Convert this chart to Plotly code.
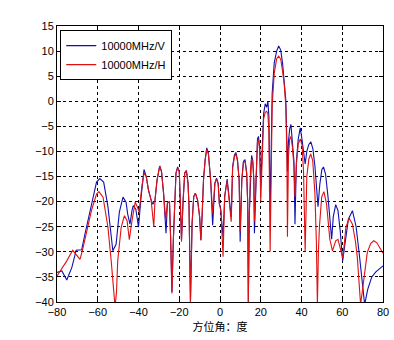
import plotly.graph_objects as go

# Azimuth pattern at 10000 MHz, vertical (V) and horizontal (H) polarisation.
# Angles in degrees, levels in dB.
angle_v = [
    -80, -77.6, -75.2, -72.7, -70.6, -67.9, -66.3, -63.1, -60.6, -59.0, -57.1, -55, -53.5, -52.6,
    -51, -49.4, -47.6, -46.1, -45.3, -44.2, -43.2, -42.6, -41.3, -40, -38.9, -37.3, -36.2, -35.1,
    -33.8, -32.9, -31.9, -30.9, -29.6, -28.7, -27.7, -26.5, -25.8, -24.8, -24.2, -23.6, -22.9,
    -22.2, -21.6, -20.8, -20, -19.4, -18.9, -18.1, -17.3, -16.5, -15.7, -15.2, -14.5, -13.7,
    -12.9, -12.1, -11, -10, -9.4, -8.8, -8.1, -7.3, -6.5, -5.7, -4.6, -3.6, -2.5, -1.7, -0.9,
    -0.3, 0.2, 1.5, 2.3, 3.0, 3.5, 3.9, 4.7, 5.5, 6.2, 7.1, 7.8, 8.6, 9.4, 9.9, 10.7, 11.5, 12.3,
    13.1, 13.6, 13.9, 14.4, 15.0, 15.5, 16.1, 16.6, 16.9, 17.6, 18.4, 18.9, 19.5, 20.0, 20.8,
    21.4, 22.2, 22.9, 23.5, 24.0, 24.6, 25.1, 25.6, 26.6, 27.8, 28.8, 29.8, 30.7, 31.5, 32.3,
    32.8, 33.1, 33.6, 34.2, 34.8, 35.5, 36.3, 36.8, 37.5, 38.4, 39.4, 40.3, 41.0, 41.8, 42.6,
    43.6, 44.6, 45.6, 46.6, 47.5, 48.1, 49.0, 50.0, 50.8, 51.8, 53.0, 54.2, 54.8, 55.6, 56.8,
    57.9, 59.0, 60.2, 61.5, 63.0, 65.0, 66.8, 68.5, 70.0, 71.0, 72.5, 74.5, 76.5, 78.5, 80,
]
level_v = [
    -34.1, -33.8, -35.6, -33.1, -29.7, -29.6, -26.5, -20.5, -16.1, -15.4, -16.1, -21, -27, -29.8,
    -28.5, -22.1, -19.1, -20.1, -22.5, -24.5, -21.8, -20.8, -21.5, -25.1, -19.8, -13.6, -15, -17.7,
    -19.7, -20.5, -19.7, -15.7, -12.9, -14, -18.3, -26.3, -20.3, -20, -27.7, -38, -27.7,
    -20.3, -14.3, -13.1, -14, -21, -27.7, -19.7, -14.3, -13.8, -16.3, -21, -40, -24.3,
    -19, -18.3, -19.7, -23, -27.7, -23, -15.7, -11.7, -9.3, -10.3, -15.7, -24.7, -16.3, -15.3, -16.3,
    -20.5, -21, -27, -19, -17, -15.5, -17, -20.3, -23, -13, -10.7, -10.2, -11.7, -15.7, -28, -15.7, -12, -11.6,
    -14.3, -20.3, -40, -22.3, -13, -10.8, -11.8, -15.7, -26.3, -16.3, -7.5, -7, -9.5, -17, -8,
    -2.5, -0.5, -1.2, 0, -3, -22, -8, 1.5, 7.6, 10, 11, 10.2, 7.6, 4.5, 0.2,
    -8, -14, -8, -5.5, -4.6, -7.8, -12, -24.5, -12, -7.5, -5.3, -7.8, -10, -12.5, -10,
    -8.6, -8.1, -9.5, -13, -18, -21, -16.5, -13.6, -13.1, -14.5, -19, -26, -27.5, -23, -20.6,
    -21.8, -25.8, -31.8, -28, -23.5, -21.8, -25, -31, -37, -40.5, -37.5, -35, -34, -33.2, -32.8,
]

angle_h = [
    -80, -78.4, -75.2, -72.3, -70.3, -68.7, -67.4, -65.5, -63.1, -60.6, -59.4, -57.4, -55, -53.4,
    -52, -51.5, -50.8, -50.2, -48.5, -46.9, -45.6, -44.5, -43.2, -41.6, -40.5, -39.7, -38.4,
    -37.3, -36.2, -35.1, -33.8, -32.5, -31.9, -30.9, -29.6, -28.7, -27.7, -26.7, -25.8, -24.8,
    -24.2, -23.6, -22.9, -22.2, -21.6, -20.8, -20, -19.4, -18.9, -18.1, -17.3, -16.5, -15.7,
    -15.2, -14.5, -13.7, -12.9, -12.1, -11, -10, -9.4, -8.8, -8.1, -7.3, -6.5, -5.7, -4.6, -3.6,
    -2.5, -1.7, -0.9, -0.3, 0.5, 1.5, 2.3, 3.0, 3.5, 3.9, 4.7, 5.5, 6.2, 7.1, 7.8, 8.6, 9.4, 9.9,
    10.7, 11.5, 12.3, 13.1, 13.6, 13.9, 14.4, 15.0, 15.5, 16.1, 16.6, 16.9, 17.6, 18.4, 18.9,
    19.5, 20.0, 20.8, 21.4, 22.2, 22.9, 23.5, 24.0, 24.6, 25.1, 25.6, 26.6, 27.8, 28.8, 29.8,
    30.7, 31.5, 32.3, 32.8, 33.1, 33.6, 34.2, 34.8, 35.5, 36.3, 36.8, 37.5, 38.4, 39.4, 40.3,
    41.0, 41.8, 42.6, 43.6, 44.5, 45.5, 46.6, 47.3, 47.8, 48.3, 48.8, 49.9, 51.0, 52.3, 53.9,
    55.2, 56.8, 57.9, 59.5, 60.3, 61.8, 63.4, 65.0, 66.5, 67.4, 68.4, 69.0, 69.8, 70.6, 72.3,
    74.0, 75.5, 77.0, 78.5, 80,
]
level_h = [
    -34.8, -33.8, -31.8, -29.7, -30.8, -31.5, -29.5, -26.1, -21.8, -18.5, -18, -19.1, -25.1, -31.8,
    -38, -41, -38, -31.8, -25.1, -22.8, -23.8, -27.6, -23.8, -20.1, -21.1, -22.1, -17.1,
    -14.3, -15, -17.7, -19.7, -25, -19.7, -15.7, -12.9, -14, -18.3, -23.5, -20.3, -20,
    -27.7, -38.3, -27.7, -20.3, -14.3, -13.3, -14, -21, -28, -19.7, -14.3, -13.8, -16.3,
    -21, -40, -24.3, -19, -18.3, -19.7, -23, -27.7, -23, -15.7, -11.7, -9.6, -10.5, -15.7, -22.3,
    -16.3, -15.5, -16.5, -20.5, -22, -31, -19, -17, -16, -17.3, -20.3, -24, -13.3, -11, -10.5, -12, -15.7, -26,
    -15.7, -12.2, -12, -14.5, -20.3, -40, -22.3, -13.3, -11.5, -12.2, -15.7, -24, -16.3, -8, -7.7,
    -9.7, -20, -8.5, -3.5, -2.2, -2, -2.5, -6, -30, -10, -1, 5.5, 8.5, 9, 8.4,
    6, 3.5, -1, -10, -27, -11, -7.5, -7, -9, -13, -19, -12.5, -8.5, -7.5, -8.8,
    -14, -30, -15, -11.5, -10.5, -11.8, -18.5, -28, -40.5, -30, -25, -19.1, -18, -20.5, -27.5,
    -29.8, -27.8, -27.5, -29.8, -31.3, -25.1, -23.3, -24.5, -28, -31.1, -38, -40.5, -38, -35.1, -30.1,
    -28.3, -27.8, -28.2, -29.2, -30.3,
]

x_ticks = [-80, -60, -40, -20, 0, 20, 40, 60, 80]
y_ticks = [15, 10, 5, 0, -5, -10, -15, -20, -25, -30, -35, -40]

fig = go.Figure()
fig.add_trace(go.Scatter(x=angle_v, y=level_v, mode="lines", name="10000MHz/V",
                         line=dict(color="#1010b0", width=1.1)))
fig.add_trace(go.Scatter(x=angle_h, y=level_h, mode="lines", name="10000MHz/H",
                         line=dict(color="#e01010", width=1.1)))

axis_common = dict(
    showline=True, linecolor="black", linewidth=1, mirror="ticks",
    ticks="inside", ticklen=4, tickcolor="black",
    showgrid=True, gridcolor="black", gridwidth=1, griddash="3px,3px",
    zeroline=False, ticklabeloverflow="allow",
    tickfont=dict(family="Liberation Sans, Arial", size=11, color="black"),
)

fig.update_xaxes(range=[-80, 80], tickvals=x_ticks, **axis_common,
                 title=dict(text="方位角：度", standoff=6,
                            font=dict(family="Noto Sans CJK SC", size=11, color="black")))
fig.update_yaxes(range=[-40, 15], tickvals=y_ticks, **axis_common)

fig.update_layout(
    width=394, height=340,
    margin=dict(l=57, r=5, t=26, b=38),
    paper_bgcolor="white", plot_bgcolor="white",
    showlegend=True,
    legend=dict(x=0.01, y=0.985, xanchor="left", yanchor="top",
                bgcolor="white", bordercolor="black", borderwidth=1,
                font=dict(family="Liberation Sans, Arial", size=11, color="black"),
                itemwidth=30, tracegroupgap=0),
)

fig.write_html("out.html")
